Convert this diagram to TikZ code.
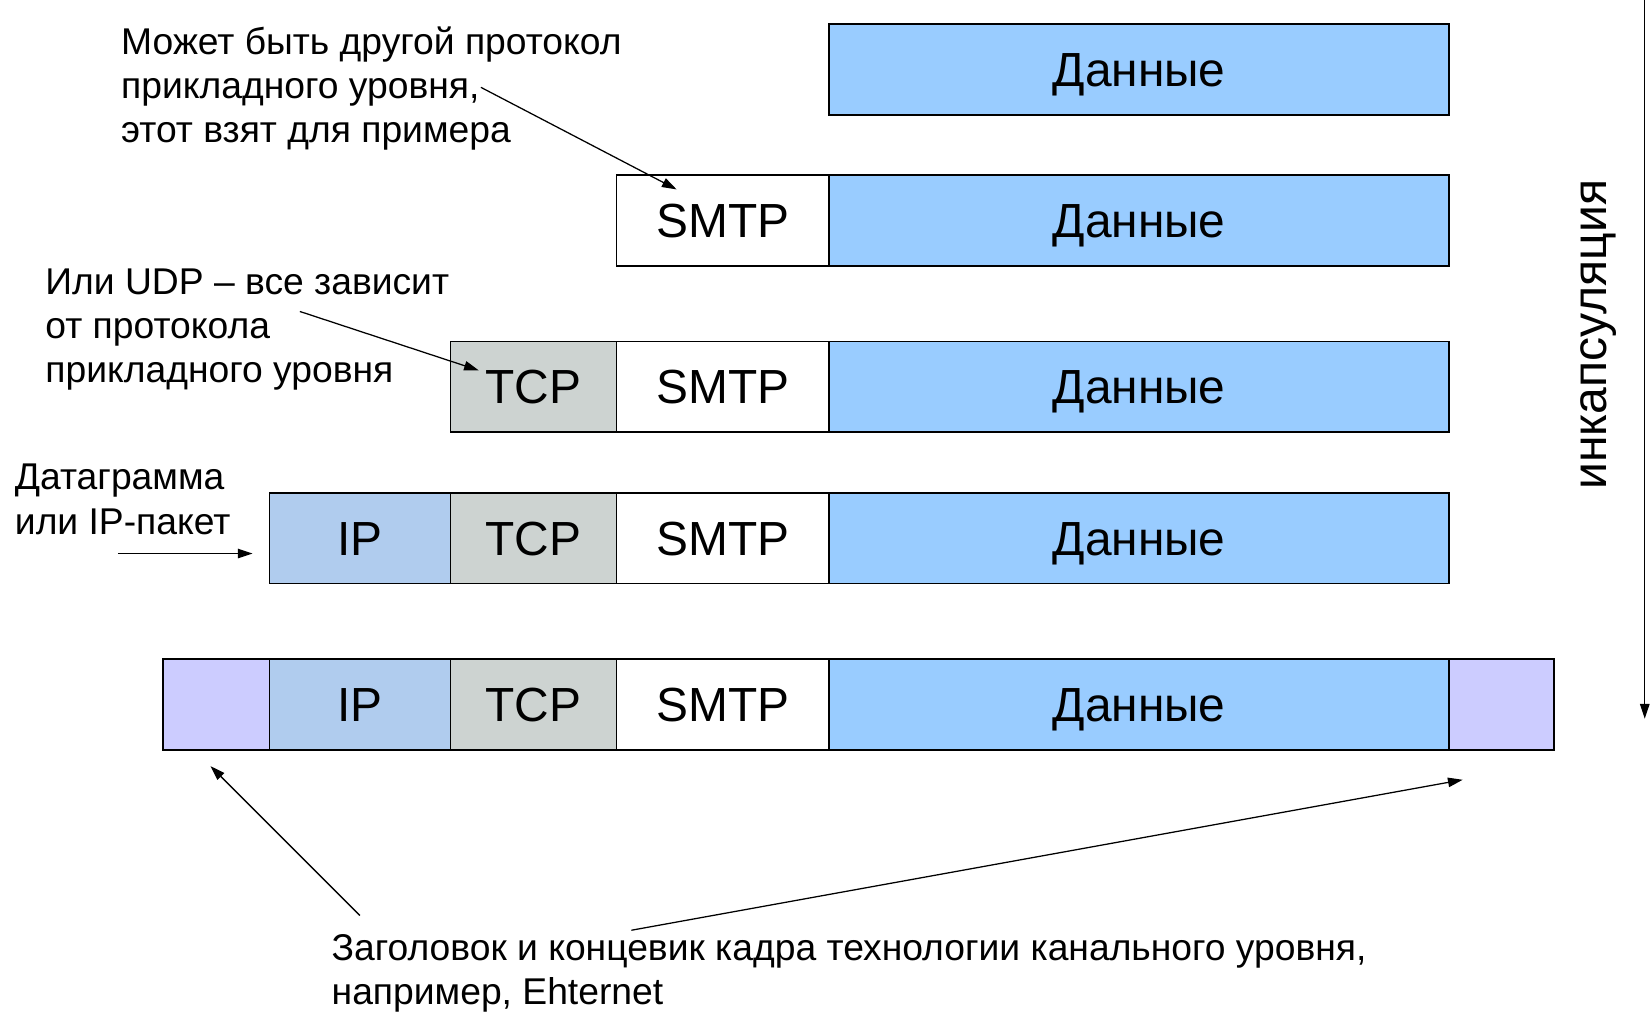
\documentclass[tikz,border=0pt]{standalone}
\usepackage{fontspec}
\setmainfont{Liberation Sans}
\usetikzlibrary{arrows.meta}
\definecolor{datac}{HTML}{99CCFF}
\definecolor{ipc}{HTML}{B0CCEE}
\definecolor{tcpc}{HTML}{CDD3D1}
\definecolor{trlc}{HTML}{CCCCFF}
\begin{document}
\begin{tikzpicture}[x=1pt,y=-1pt,
  cell/.style={draw=black,line width=1.6pt,rectangle,inner sep=0pt,minimum height=86pt,text height=32.6pt,text depth=0pt,font=\fontsize{45.5}{50}\selectfont},
  note/.style={anchor=north west,inner sep=0pt,align=left,font=\fontsize{35.4}{42}\selectfont},
  arr/.style={-{Triangle[length=14pt,width=9pt]},line width=1.2pt}]
\useasboundingbox (0,0) rectangle (1568,961.7);
% row 1
\node[cell,fill=datac,minimum width=589pt] (d1) at (1082.5,66) {Данные};
% row 2
\node[cell,fill=white,minimum width=202pt] (s2) at (687,209.5) {SMTP};
\node[cell,fill=datac,minimum width=589pt] (d2) at (1082.5,209.5) {Данные};
% row 3
\node[cell,fill=tcpc,minimum width=158pt] (t3) at (507,367.5) {TCP};
\node[cell,fill=white,minimum width=202pt] (s3) at (687,367.5) {SMTP};
\node[cell,fill=datac,minimum width=589pt] (d3) at (1082.5,367.5) {Данные};
% row 4
\node[cell,fill=ipc,minimum width=172pt] (i4) at (342,511.5) {IP};
\node[cell,fill=tcpc,minimum width=158pt] (t4) at (507,511.5) {TCP};
\node[cell,fill=white,minimum width=202pt] (s4) at (687,511.5) {SMTP};
\node[cell,fill=datac,minimum width=589pt] (d4) at (1082.5,511.5) {Данные};
% row 5
\node[cell,fill=trlc,minimum width=101pt] (h5) at (205.5,669.5) {};
\node[cell,fill=ipc,minimum width=172pt] (i5) at (342,669.5) {IP};
\node[cell,fill=tcpc,minimum width=158pt] (t5) at (507,669.5) {TCP};
\node[cell,fill=white,minimum width=202pt] (s5) at (687,669.5) {SMTP};
\node[cell,fill=datac,minimum width=589pt] (d5) at (1082.5,669.5) {Данные};
\node[cell,fill=trlc,minimum width=100pt] (r5) at (1427,669.5) {};
% notes
\node[note] (n1) at (115,25) {Может быть другой протокол\\прикладного уровня,\\этот взят для примера};
\node[note] (n2) at (43,255) {Или UDP – все зависит\\от протокола\\прикладного уровня};
\node[note] (n3) at (14,441) {Датаграмма\\или IP-пакет};
\node[note] (n4) at (315,888) {Заголовок и концевик кадра технологии канального уровня,\\например, Ehternet};
\node[rotate=90,inner sep=0pt,font=\fontsize{45.7}{50}\selectfont] (enc) at (1519,318) {инкапсуляция};
% arrow ends
\coordinate (a1s) at (457,83);  \coordinate (a1e) at (643,180);
\coordinate (a2s) at (285,296); \coordinate (a2e) at (455,352);
\coordinate (a3s) at (112,526); \coordinate (a3e) at (240,526);
\coordinate (a4s) at (342,870); \coordinate (a4e) at (200,728);
\coordinate (a5s) at (600,884); \coordinate (a5e) at (1390,741);
\coordinate (vs) at (1563,0);   \coordinate (ve) at (1563,683);
\draw[arr] (a1s) -- (a1e);
\draw[arr] (a2s) -- (a2e);
\draw[arr] (a3s) -- (a3e);
\draw[arr] (a4s) -- (a4e);
\draw[arr] (a5s) -- (a5e);
\draw[arr] (vs) -- (ve);
\end{tikzpicture}
\end{document}
